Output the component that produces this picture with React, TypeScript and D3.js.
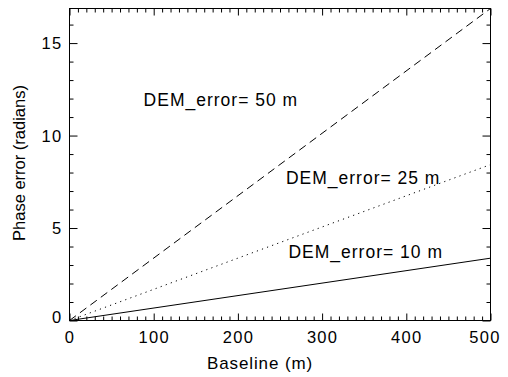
import React, { useRef, useEffect } from "react";
import * as d3 from "d3";

// baseline (m) and phase error (radians) for each DEM error
const baseline = [0, 500];
const err50 = [0, 16.87];
const err25 = [0, 8.43];
const err10 = [0, 3.37];

const xMajor = [0, 100, 200, 300, 400, 500];
const yMajor = [0, 5, 10, 15];

const annotations = [
  { text: "DEM_error= 50 m", bx: 88, by: 11.6 },
  { text: "DEM_error= 25 m", bx: 257, by: 7.4 },
  { text: "DEM_error= 10 m", bx: 260, by: 3.4 },
];

const W = 508;
const H = 377;
const FONT = "'Liberation Sans', Arial, Helvetica, sans-serif";

export default function App() {
  const svgRef = useRef<SVGSVGElement>(null);

  useEffect(() => {
    const svg = d3.select(svgRef.current);
    svg.selectAll("*").remove();

    const x = d3.scaleLinear().domain([0, 500]).range([69.5, 490.5]);
    const y = d3.scaleLinear().domain([0, 16.87]).range([320.5, 8.5]);

    const xMinor = d3.range(0, 501, 10).filter((v) => v % 100 !== 0);
    const yMinor = d3.range(0, 17, 1).filter((v) => v % 5 !== 0);

    const g = svg.append("g").attr("font-family", FONT);

    // frame
    g.append("rect")
      .attr("x", x(0))
      .attr("y", y.range()[1])
      .attr("width", x(500) - x(0))
      .attr("height", y.range()[0] - y.range()[1])
      .attr("fill", "none")
      .attr("stroke", "#000")
      .attr("stroke-width", 1);

    const tickStyle = (sel: any) => {
      sel.select(".domain").remove();
      sel.selectAll("line").attr("stroke", "#000");
    };

    // bottom axis, ticks pointing inward
    const bottom = g.append("g").attr("transform", `translate(0,${y.range()[0]})`);
    bottom
      .append("g")
      .call(d3.axisBottom(x).tickValues(xMinor).tickSize(-4).tickFormat(() => ""))
      .call(tickStyle);
    bottom
      .append("g")
      .call(d3.axisBottom(x).tickValues(xMajor).tickSize(-7).tickPadding(11).tickFormat(d3.format("d")))
      .call(tickStyle)
      .call((s: any) =>
        s
          .selectAll("text")
          .attr("fill", "#000")
          .attr("font-family", FONT)
          .attr("font-size", 16.5)
          .attr("letter-spacing", 1.3)
          .attr("dx", (d: number) => (d === 500 ? -6 : 0))
      );

    // top axis (no labels)
    const top = g.append("g").attr("transform", `translate(0,${y.range()[1]})`);
    top
      .append("g")
      .call(d3.axisTop(x).tickValues(xMinor).tickSize(-4).tickFormat(() => ""))
      .call(tickStyle);
    top
      .append("g")
      .call(d3.axisTop(x).tickValues(xMajor).tickSize(-7).tickFormat(() => ""))
      .call(tickStyle);

    // left axis
    const left = g.append("g").attr("transform", `translate(${x(0)},0)`);
    left
      .append("g")
      .call(d3.axisLeft(y).tickValues(yMinor).tickSize(-4).tickFormat(() => ""))
      .call(tickStyle);
    left
      .append("g")
      .call(d3.axisLeft(y).tickValues(yMajor).tickSize(-8).tickPadding(7).tickFormat(d3.format("d")))
      .call(tickStyle)
      .call((s: any) =>
        s
          .selectAll("text")
          .attr("fill", "#000")
          .attr("font-family", FONT)
          .attr("font-size", 16.5)
          .attr("letter-spacing", 1.3)
          .attr("dy", (d: number) => (d === 0 ? "0.12em" : "0.34em"))
      );

    // right axis (no labels)
    const right = g.append("g").attr("transform", `translate(${x(500)},0)`);
    right
      .append("g")
      .call(d3.axisRight(y).tickValues(yMinor).tickSize(-4).tickFormat(() => ""))
      .call(tickStyle);
    right
      .append("g")
      .call(d3.axisRight(y).tickValues(yMajor).tickSize(-8).tickFormat(() => ""))
      .call(tickStyle);

    // the three lines
    const lineGen = d3
      .line<number>()
      .x((d, i) => x(baseline[i]))
      .y((d) => y(d));

    const series = [
      { values: err50, dash: "8,5" },
      { values: err25, dash: "1.2,4.2" },
      { values: err10, dash: null },
    ];
    g.selectAll(".series")
      .data(series)
      .join("path")
      .attr("class", "series")
      .attr("d", (d) => lineGen(d.values))
      .attr("fill", "none")
      .attr("stroke", "#000")
      .attr("stroke-width", 1)
      .attr("stroke-dasharray", (d) => d.dash);

    // labels on the lines
    g.selectAll(".annot")
      .data(annotations)
      .join("text")
      .attr("class", "annot")
      .attr("x", (d) => x(d.bx))
      .attr("y", (d) => y(d.by))
      .attr("font-size", 17.5)
      .attr("letter-spacing", 1)
      .attr("fill", "#000")
      .text((d) => d.text);

    // axis titles
    g.append("text")
      .attr("x", 260)
      .attr("y", 369)
      .attr("text-anchor", "middle")
      .attr("font-size", 17)
      .attr("letter-spacing", 0.9)
      .attr("fill", "#000")
      .text("Baseline (m)");

    g.append("text")
      .attr("transform", "translate(25,163) rotate(-90)")
      .attr("text-anchor", "middle")
      .attr("font-size", 16.5)
      .attr("fill", "#000")
      .text("Phase error (radians)");
  }, []);

  return (
    <svg
      ref={svgRef}
      width={W}
      height={H}
      style={{ position: "absolute", left: 0, top: 0, background: "#fff" }}
    />
  );
}
